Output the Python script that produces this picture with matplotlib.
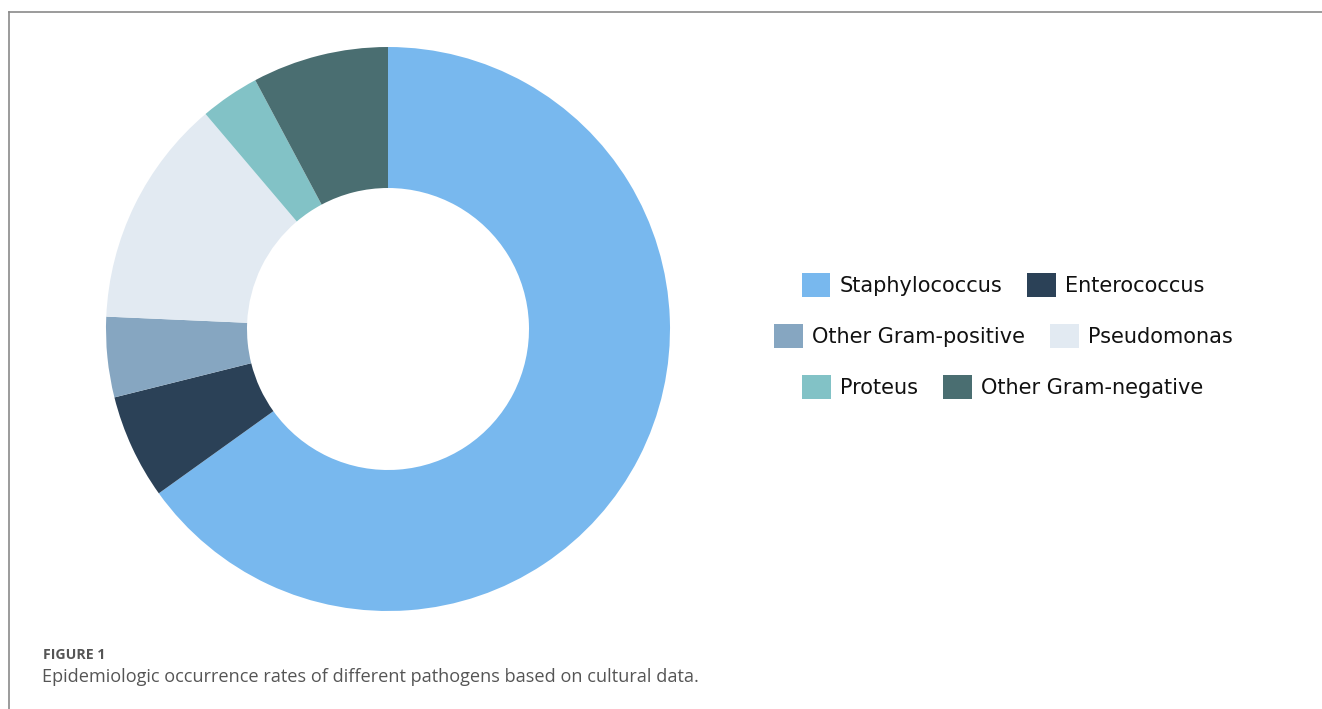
import matplotlib
matplotlib.use("Agg")
from matplotlib import pyplot as plt
from matplotlib.lines import Line2D

# Share of isolates (%)
pathogens = ["Staphylococcus", "Enterococcus", "Other Gram-positive",
             "Pseudomonas", "Proteus", "Other Gram-negative"]
shares = [65.1, 6.0, 4.6, 13.1, 3.4, 7.8]
colors = ["#78b8ee", "#2b4157", "#86a6c1", "#e2eaf2", "#82c2c6", "#4a6e71"]

W, H = 1322, 709
fig = plt.figure(figsize=(W / 100, H / 100), dpi=100)

# donut axes: centre (388, 329) px, radius 282 px
cx, cy, r = 388, 329, 282
ax = fig.add_axes([(cx - r) / W, (H - cy - r) / H, 2 * r / W, 2 * r / H])
wedges, _ = ax.pie(shares, colors=colors, startangle=90, counterclock=False,
                   radius=1, wedgeprops=dict(width=0.5, linewidth=0))
ax.set_xlim(-1, 1)
ax.set_ylim(-1, 1)
ax.set_aspect("equal")
ax.axis("off")

# legend: three centred rows of two entries
rows = [(0, 1), (2, 3), (4, 5)]
row_y = [285, 336, 387]
for (i, j), y in zip(rows, row_y):
    leg = fig.legend([wedges[i], wedges[j]], [pathogens[i], pathogens[j]],
                     ncol=2, loc="center", bbox_to_anchor=(1003 / W, 1 - y / H),
                     frameon=False, fontsize=15, handlelength=1.39, handleheight=1.39,
                     handletextpad=0.43, columnspacing=1.2, borderpad=0)
    for t in leg.get_texts():
        t.set_color("#111111")

# frame lines at the top and left
fig.add_artist(Line2D([9 / W, 1], [1 - 12 / H, 1 - 12 / H], color="#8a8a8a", lw=1.2))
fig.add_artist(Line2D([9 / W, 9 / W], [0, 1 - 12 / H], color="#8a8a8a", lw=1.2))

# caption
fig.text(43 / W, 1 - 655 / H, "FIGURE 1", fontsize=10.2, color="#555555",
         fontweight="bold", family="Open Sans", va="center")
fig.text(42 / W, 1 - 677 / H,
         "Epidemiologic occurrence rates of different pathogens based on cultural data.",
         fontsize=13.1, color="#555555", family="Open Sans", va="center")

fig.savefig("out.png", dpi=100)
